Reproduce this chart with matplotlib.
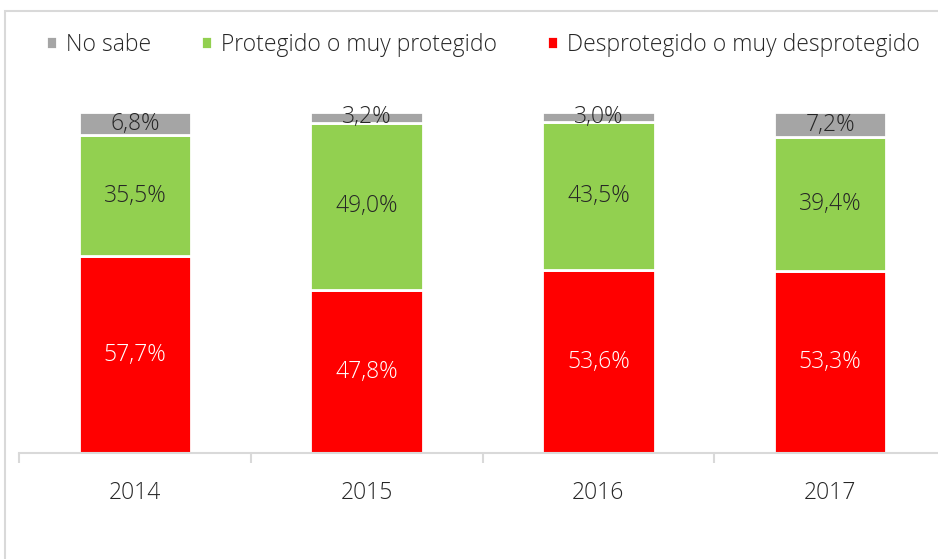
import numpy as np
import matplotlib
matplotlib.use("Agg")
import matplotlib.pyplot as plt
from matplotlib.patches import Rectangle

# datos
anios = ["2014", "2015", "2016", "2017"]
desprotegido = [57.7, 47.8, 53.6, 53.3]
protegido = [35.5, 49.0, 43.5, 39.4]
no_sabe = [6.8, 3.2, 3.0, 7.2]

plt.rcParams["font.family"] = ["Open Sans", "DejaVu Sans"]
plt.rcParams["font.weight"] = "light"

fig = plt.figure(figsize=(9.38, 5.59), dpi=100)
ax = fig.add_axes([19 / 938, 106 / 559, 927 / 938, 341 / 559])

# marco del grafico
fig.add_artist(Rectangle((5 / 938, -0.1), 1.2, 1.1 - 11 / 559, transform=fig.transFigure,
                         fill=False, edgecolor="#D9D9D9", linewidth=1.5, clip_on=False))

x = np.arange(len(anios))
ancho = 0.485
rojo = ax.bar(x, desprotegido, ancho, color="#FF0000", edgecolor="white", linewidth=2,
              label="Desprotegido o muy desprotegido")
verde = ax.bar(x, protegido, ancho, bottom=desprotegido, color="#92D050", edgecolor="white",
               linewidth=2, label="Protegido o muy protegido")
base_gris = np.array(desprotegido) + np.array(protegido)
gris = ax.bar(x, no_sabe, ancho, bottom=base_gris, color="#A5A5A5", edgecolor="white",
              linewidth=2, label="No sabe")

def etiqueta(v):
    return f"{v:.1f}%".replace(".", ",")

for i in range(len(anios)):
    ax.text(x[i], desprotegido[i] / 2, etiqueta(desprotegido[i]), ha="center", va="center",
            color="white", fontsize=16.5)
    ax.text(x[i], desprotegido[i] + protegido[i] / 2, etiqueta(protegido[i]), ha="center",
            va="center", color="#262626", fontsize=16.5)
    ax.text(x[i], base_gris[i] + no_sabe[i] / 2, etiqueta(no_sabe[i]), ha="center",
            va="center", color="#262626", fontsize=16.5)

ax.set_xlim(-0.5, 3.5)
ax.set_ylim(0, 100)
ax.set_yticks([])
ax.set_xticks(x)
ax.set_xticklabels(anios, fontsize=16.5, color="#262626")
ax.set_xticks(np.arange(-0.5, 4, 1), minor=True)
ax.tick_params(axis="x", which="major", length=0, pad=20)
ax.tick_params(axis="x", which="minor", length=7, color="#D9D9D9", width=1.5)
for lado in ["top", "right", "left"]:
    ax.spines[lado].set_visible(False)
ax.spines["bottom"].set_color("#D9D9D9")
ax.spines["bottom"].set_linewidth(1.5)

ax.legend(handles=[gris, verde, rojo], loc="center", bbox_to_anchor=(483 / 938, 1 - 45 / 559),
          bbox_transform=fig.transFigure, ncol=3, frameon=False, fontsize=16.5,
          handlelength=0.5, handleheight=0.5, handletextpad=0.4, columnspacing=2.15,
          labelcolor="#262626")

fig.savefig("out.png", dpi=100)
